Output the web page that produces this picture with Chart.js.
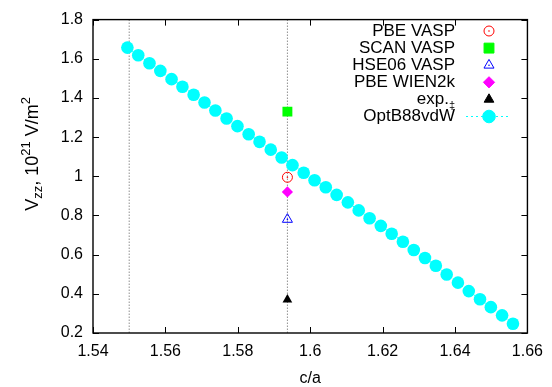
<!DOCTYPE html>
<html>
<head>
<meta charset="utf-8">
<script src="https://cdn.jsdelivr.net/npm/chart.js@4.4.1/dist/chart.umd.min.js"></script>
<style>
html,body{margin:0;padding:0;background:#fff;}
canvas{display:block;}
</style>
</head>
<body>
<canvas id="c" width="552" height="387"></canvas>
<script>
// ---- data ----
const caOpt = [1.5495, 1.5525, 1.5556, 1.5586, 1.5617, 1.5647, 1.5678, 1.5708, 1.5738, 1.5769, 1.5799, 1.5830, 1.5860, 1.5891, 1.5921, 1.5951, 1.5982, 1.6012, 1.6043, 1.6073, 1.6104, 1.6134, 1.6164, 1.6195, 1.6225, 1.6256, 1.6286, 1.6317, 1.6347, 1.6377, 1.6408, 1.6438, 1.6469, 1.6499, 1.6530, 1.6560];
const vzzOpt = [1.657, 1.618, 1.577, 1.538, 1.496, 1.457, 1.416, 1.377, 1.336, 1.295, 1.256, 1.215, 1.176, 1.136, 1.096, 1.057, 1.018, 0.980, 0.944, 0.905, 0.867, 0.826, 0.786, 0.747, 0.707, 0.666, 0.624, 0.583, 0.543, 0.499, 0.457, 0.414, 0.372, 0.332, 0.290, 0.247];
const caExp = 1.5937;
const caLine1 = 1.55;
const vzzPbeVasp = 0.995;
const vzzScanVasp = 1.33;
const vzzHseVasp = 0.78;
const vzzPbeWien = 0.92;
const vzzExp = 0.37;
const yRange = [0.2, 1.8];
const xRange = [1.54, 1.66];
const xTicks = [1.54, 1.56, 1.58, 1.6, 1.62, 1.64, 1.66];
const yTicks = [0.2, 0.4, 0.6, 0.8, 1, 1.2, 1.4, 1.6, 1.8];
const seriesNames = ['PBE VASP', 'SCAN VASP', 'HSE06 VASP', 'PBE WIEN2k', 'exp.', 'OptB88vdW'];

const FONT = '"Liberation Sans", Arial, Helvetica, sans-serif';

function pts(xs, ys) { return xs.map((x, i) => ({x: x, y: ys[i]})); }

const datasets = [
  {label: seriesNames[5], data: pts(caOpt, vzzOpt), showLine: true, borderColor: '#00ffff', borderWidth: 1, borderDash: [2, 3],
   pointStyle: 'circle', pointRadius: 6.3, pointBackgroundColor: '#00ffff', pointBorderColor: '#00ffff', pointBorderWidth: 0, legendLine: true},
  {label: seriesNames[0], data: [{x: caExp, y: vzzPbeVasp}], pointStyle: 'circle', pointRadius: 5, pointBackgroundColor: 'rgba(0,0,0,0)', pointBorderColor: '#ff0000', pointBorderWidth: 1, centerDot: true},
  {label: seriesNames[1], data: [{x: caExp, y: vzzScanVasp}], pointStyle: 'rect', pointRadius: 7, pointBackgroundColor: '#00ff00', pointBorderColor: '#00ff00', pointBorderWidth: 0},
  {label: seriesNames[2], data: [{x: caExp, y: vzzHseVasp}], pointStyle: 'triangle', pointRadius: 5.8, pointBackgroundColor: 'rgba(0,0,0,0)', pointBorderColor: '#0000ff', pointBorderWidth: 1, centerDot: true},
  {label: seriesNames[3], data: [{x: caExp, y: vzzPbeWien}], pointStyle: 'rectRot', pointRadius: 5.6, pointBackgroundColor: '#ff00ff', pointBorderColor: '#ff00ff', pointBorderWidth: 0},
  {label: seriesNames[4], data: [{x: caExp, y: vzzExp}], pointStyle: 'triangle', pointRadius: 5.6, pointBackgroundColor: '#000000', pointBorderColor: '#000000', pointBorderWidth: 0},
  {label: 'line1', data: [{x: caLine1, y: yRange[0]}, {x: caLine1, y: yRange[1]}], showLine: true, borderColor: '#909090', borderWidth: 1, borderDash: [1.5, 1.5], pointRadius: 0, noLegend: true},
  {label: 'line2', data: [{x: caExp, y: yRange[0]}, {x: caExp, y: yRange[1]}], showLine: true, borderColor: '#909090', borderWidth: 1, borderDash: [1.5, 1.5], pointRadius: 0, noLegend: true}
];

function drawSym(ctx, ds, x, y) {
  const r = ds.pointRadius;
  ctx.save();
  ctx.fillStyle = ds.pointBackgroundColor;
  ctx.strokeStyle = ds.pointBorderColor;
  ctx.lineWidth = ds.pointBorderWidth || 0;
  ctx.beginPath();
  if (ds.pointStyle === 'circle') {
    ctx.arc(x, y, r, 0, Math.PI * 2);
  } else if (ds.pointStyle === 'rect') {
    const s = r * Math.SQRT1_2;
    ctx.rect(x - s, y - s, 2 * s, 2 * s);
  } else if (ds.pointStyle === 'rectRot') {
    ctx.moveTo(x, y - r); ctx.lineTo(x + r, y); ctx.lineTo(x, y + r); ctx.lineTo(x - r, y); ctx.closePath();
  } else if (ds.pointStyle === 'triangle') {
    let a = 0;
    ctx.moveTo(x + Math.sin(a) * r, y - Math.cos(a) * r);
    a += 2 * Math.PI / 3; ctx.lineTo(x + Math.sin(a) * r, y - Math.cos(a) * r);
    a += 2 * Math.PI / 3; ctx.lineTo(x + Math.sin(a) * r, y - Math.cos(a) * r);
    ctx.closePath();
  }
  ctx.fill();
  if (ctx.lineWidth > 0) ctx.stroke();
  if (ds.centerDot) {
    ctx.beginPath(); ctx.fillStyle = ds.pointBorderColor; ctx.arc(x, y, 0.8, 0, Math.PI * 2); ctx.fill();
  }
  ctx.restore();
}

const gnuPlugin = {
  id: 'gnu',
  afterDatasetsDraw(chart) {
    const ctx = chart.ctx;
    chart.data.datasets.forEach((ds, i) => {
      if (!ds.centerDot) return;
      chart.getDatasetMeta(i).data.forEach(el => {
        ctx.save(); ctx.fillStyle = ds.pointBorderColor; ctx.beginPath(); ctx.arc(el.x, el.y, 0.8, 0, Math.PI * 2); ctx.fill(); ctx.restore();
      });
    });
  },
  afterDraw(chart) {
    const ctx = chart.ctx;
    const a = chart.chartArea;
    const xs = chart.scales.x, ys = chart.scales.y;
    ctx.save();
    ctx.strokeStyle = '#000';
    ctx.lineWidth = 1;
    const tl = 6;
    ctx.beginPath();
    xTicks.forEach(v => {
      const p = Math.round(xs.getPixelForValue(v)) + 0.5;
      ctx.moveTo(p, a.bottom); ctx.lineTo(p, a.bottom - tl);
      ctx.moveTo(p, a.top); ctx.lineTo(p, a.top + tl);
    });
    yTicks.forEach(v => {
      const p = Math.round(ys.getPixelForValue(v)) + 0.5;
      ctx.moveTo(a.left, p); ctx.lineTo(a.left + tl, p);
      ctx.moveTo(a.right, p); ctx.lineTo(a.right - tl, p);
    });
    ctx.stroke();
    ctx.lineWidth = 1.4;
    ctx.strokeRect(a.left, a.top, a.right - a.left, a.bottom - a.top);
    ctx.restore();

    // x title
    ctx.save();
    ctx.fillStyle = '#000';
    ctx.font = '16px ' + FONT;
    ctx.textAlign = 'center';
    ctx.textBaseline = 'alphabetic';
    ctx.fillText('c/a', (a.left + a.right) / 2, 383);
    ctx.restore();

    // y title with sub/superscripts
    const parts = [
      {t: 'V', s: 18, dy: 0},
      {t: 'zz', s: 13, dy: 4},
      {t: ', 10', s: 18, dy: 0},
      {t: '21', s: 13, dy: -8},
      {t: ' V/m', s: 18, dy: 0},
      {t: '2', s: 13, dy: -8}
    ];
    ctx.save();
    ctx.fillStyle = '#000';
    ctx.textBaseline = 'alphabetic';
    ctx.textAlign = 'left';
    let w = 0;
    parts.forEach(p => { ctx.font = p.s + 'px ' + FONT; p.w = ctx.measureText(p.t).width; w += p.w; });
    ctx.translate(38, 154);
    ctx.rotate(-Math.PI / 2);
    let cx = -w / 2;
    parts.forEach(p => { ctx.font = p.s + 'px ' + FONT; ctx.fillText(p.t, cx, p.dy); cx += p.w; });
    ctx.restore();

    // legend
    ctx.save();
    const order = [1, 2, 3, 4, 5, 0];
    const textRight = 455, symX = 489, y0 = 31, dyRow = 17.1;
    order.forEach((di, k) => {
      const ds = chart.data.datasets[di];
      const yy = y0 + k * dyRow;
      ctx.fillStyle = '#000';
      ctx.font = '17px ' + FONT;
      ctx.textAlign = 'right';
      ctx.textBaseline = 'middle';
      if (ds.label === 'exp.') {
        ctx.font = '11px ' + FONT;
        const sw = ctx.measureText('\u2021').width;
        ctx.fillText('\u2021', textRight, yy + 7);
        ctx.font = '17px ' + FONT;
        ctx.fillText('exp.', textRight - sw, yy);
      } else {
        ctx.fillText(ds.label, textRight, yy);
      }
      if (ds.legendLine) {
        ctx.save();
        ctx.strokeStyle = ds.borderColor; ctx.lineWidth = 1; ctx.setLineDash([2, 3]);
        ctx.beginPath(); ctx.moveTo(466, yy); ctx.lineTo(511, yy); ctx.stroke();
        ctx.restore();
      }
      drawSym(ctx, ds, symX, yy);
    });
    ctx.restore();
  }
};

const tickFont = {family: FONT, size: 16};
function fmt(v) { return String(parseFloat(Number(v).toFixed(2))); }

new Chart(document.getElementById('c'), {
  type: 'scatter',
  data: {datasets: datasets},
  options: {
    responsive: false,
    animation: false,
    events: [],
    layout: {padding: {top: 17, right: 19, left: 0, bottom: 0}},
    plugins: {legend: {display: false}, tooltip: {enabled: false}},
    scales: {
      x: {
        type: 'linear', min: xRange[0], max: xRange[1],
        afterBuildTicks: s => { s.ticks = xTicks.map(v => ({value: v})); },
        afterFit: s => { s.height = 54; },
        ticks: {font: tickFont, color: '#000', padding: 9, autoSkip: false, maxRotation: 0, callback: fmt},
        grid: {drawOnChartArea: false, drawTicks: false},
        border: {display: false}
      },
      y: {
        type: 'linear', min: yRange[0], max: yRange[1],
        afterBuildTicks: s => { s.ticks = yTicks.map(v => ({value: v})); },
        afterFit: s => { s.width = 93; },
        ticks: {font: tickFont, color: '#000', padding: 10, autoSkip: false, callback: fmt},
        grid: {drawOnChartArea: false, drawTicks: false},
        border: {display: false}
      }
    }
  },
  plugins: [gnuPlugin]
});
</script>
</body>
</html>
